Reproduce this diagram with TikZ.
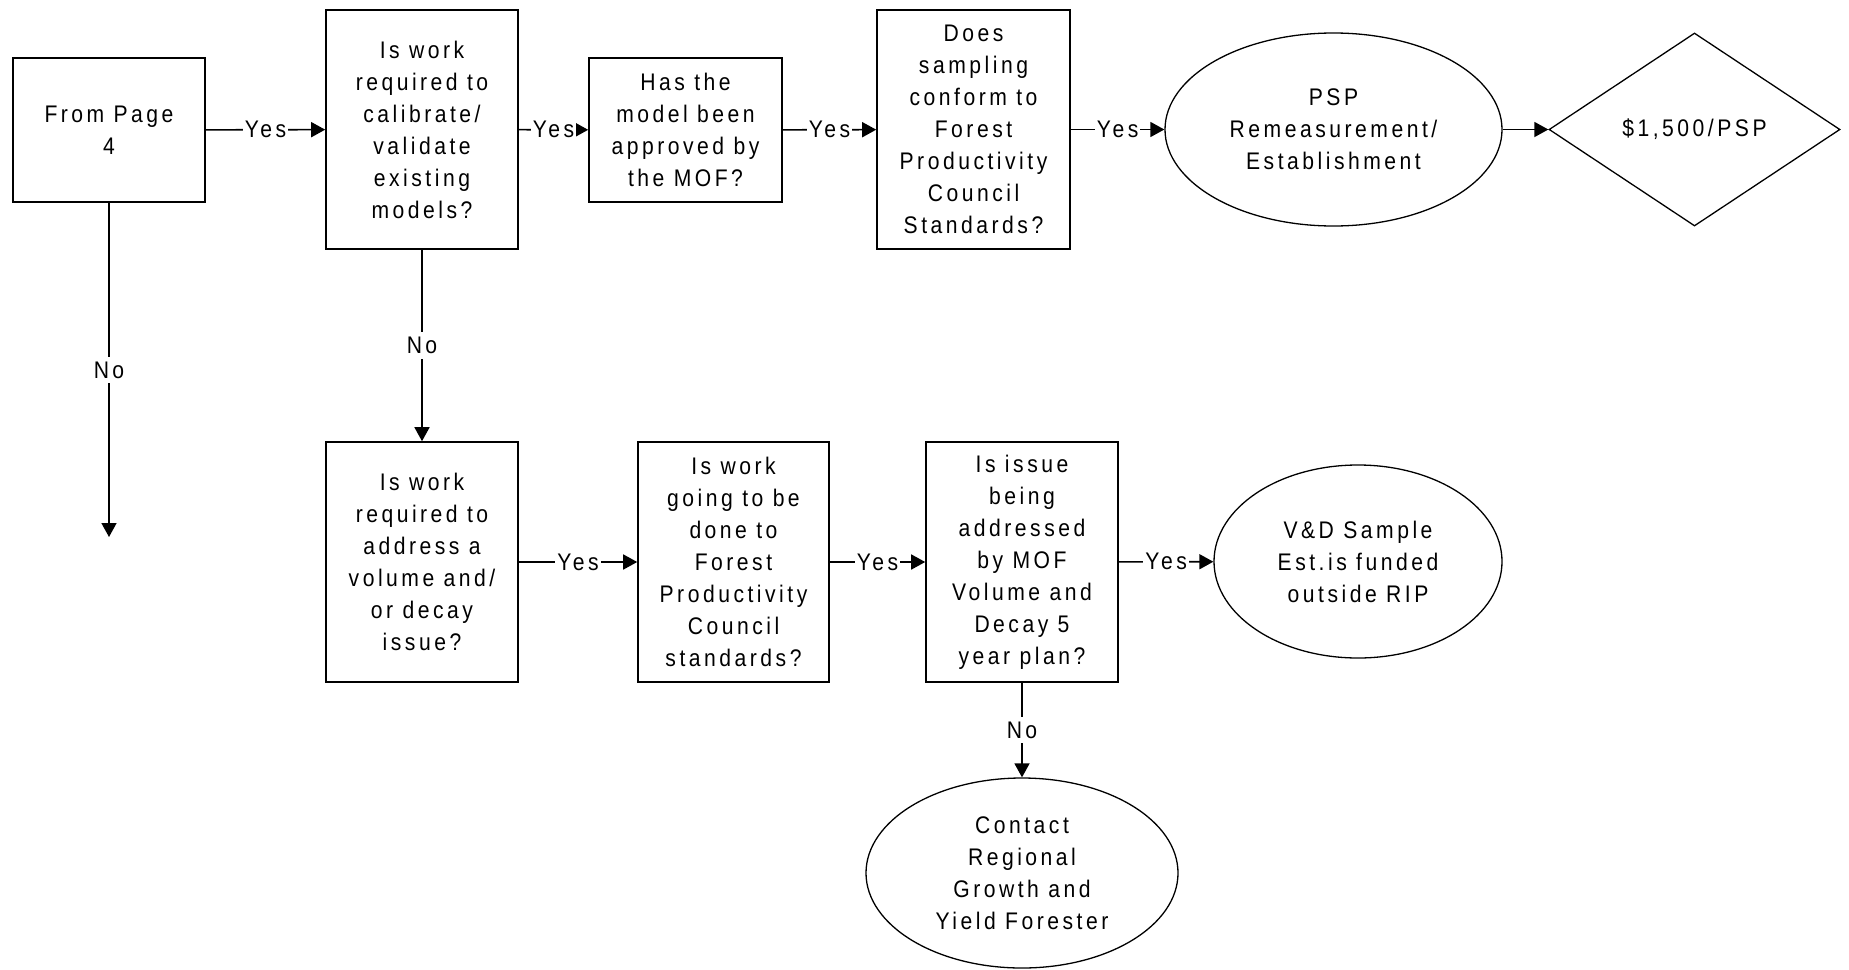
\documentclass[tikz,border=0pt]{standalone}
\usepackage{fontspec}
\setmainfont{Liberation Sans}[FakeStretch=0.88, LetterSpace=14.6]
\usetikzlibrary{shapes.geometric,arrows.meta}

\tikzset{
  every node/.style={font=\fontsize{24}{32}\selectfont, align=center},
  qbox/.style={draw, line width=1.6pt, rectangle, inner sep=0pt},
  oval/.style={draw, line width=1.3pt, ellipse, inner sep=0pt},
  cost/.style={draw, line width=1.3pt, diamond, inner sep=0pt},
  flow/.style={line width=1.6pt, -{Triangle[length=14pt,width=15pt]}},
  lbl/.style={fill=white, inner xsep=2pt, inner ysep=5pt},
}

\begin{document}
\begin{tikzpicture}[x=1pt,y=-1pt]
\useasboundingbox (0,0) rectangle (1849,969);

% top row
\node[qbox, minimum width=192pt, minimum height=144pt] (from) at (109,130) {From Page\\4};
\node[qbox, minimum width=192pt, minimum height=239pt] (calib) at (422,129.5)
  {Is work\\required to\\calibrate/\\validate\\existing\\models?};
\node[qbox, minimum width=193pt, minimum height=144pt] (approved) at (685.5,130)
  {Has the\\model been\\approved by\\the MOF?};
\node[qbox, minimum width=193pt, minimum height=239pt] (conform) at (973.5,129.5)
  {Does\\sampling\\conform to\\Forest\\Productivity\\Council\\Standards?};
\node[oval, minimum width=337pt, minimum height=193pt] (psp) at (1333.5,129.5)
  {PSP\\Remeasurement/\\Establishment};
\node[cost, minimum width=291pt, minimum height=193pt] (price) at (1694.5,129.5)
  {\$1,500/PSP};

% bottom row
\node[qbox, minimum width=192pt, minimum height=240pt] (volume) at (422,562)
  {Is work\\required to\\address a\\volume and/\\or decay\\issue?};
\node[qbox, minimum width=191pt, minimum height=240pt] (fpc) at (733.5,562)
  {Is work\\going to be\\done to\\Forest\\Productivity\\Council\\standards?};
\node[qbox, minimum width=192pt, minimum height=240pt] (plan) at (1022,562)
  {Is issue\\being\\addressed\\by MOF\\Volume and\\Decay 5\\year plan?};
\node[oval, minimum width=288pt, minimum height=193pt] (funded) at (1358,561.5)
  {V\&D Sample\\Est.is funded\\outside RIP};
\node[oval, minimum width=312pt, minimum height=190pt] (contact) at (1022,873)
  {Contact\\Regional\\Growth and\\Yield Forester};

\coordinate (nofrom) at (109,537);

% connectors
\draw[flow] (from) -- node[lbl]{Yes} (calib);
\draw[flow] (calib) -- node[lbl]{Yes} (approved);
\draw[flow] (approved) -- node[lbl]{Yes} (conform);
\draw[flow] (conform) -- node[lbl]{Yes} (psp);
\draw[flow] (psp) -- (price);
\draw[flow] (from.south) -- node[lbl]{No} (nofrom);
\draw[flow] (calib) -- node[lbl]{No} (volume);
\draw[flow] (volume) -- node[lbl]{Yes} (fpc);
\draw[flow] (fpc) -- node[lbl]{Yes} (plan);
\draw[flow] (plan) -- node[lbl]{Yes} (funded);
\draw[flow] (plan) -- node[lbl]{No} (contact);
\end{tikzpicture}
\end{document}
